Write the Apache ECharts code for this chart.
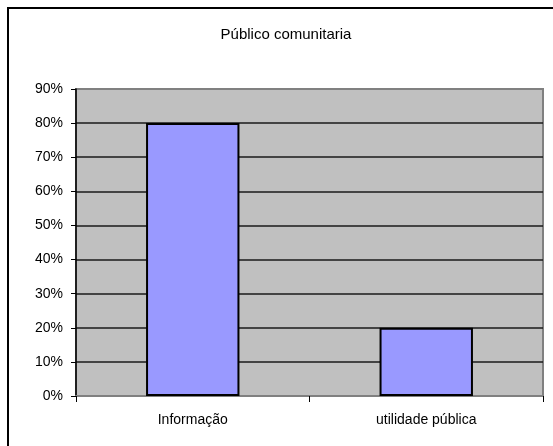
<!DOCTYPE html>
<html>
<head>
<meta charset="utf-8">
<script src="https://cdn.jsdelivr.net/npm/echarts@6/dist/echarts.min.js"></script>
<style>
  html, body { margin: 0; padding: 0; background: #fff; }
  #chart { width: 553px; height: 446px; }
</style>
</head>
<body>
<div id="chart"></div>
<script>
const titleText = 'Público comunitaria';
const categories = ['Informação', 'utilidade pública'];
const shares = [0.80, 0.20];
const yTicks = [0, 0.1, 0.2, 0.3, 0.4, 0.5, 0.6, 0.7, 0.8, 0.9];

const FONT = '"Liberation Sans", Arial, sans-serif';
const chart = echarts.init(document.getElementById('chart'), null, { renderer: 'canvas' });

// horizontal rules: the 0% and 90% ones form part of the grey frame
const ruleColors = yTicks.map((v, i) => (i === 0 || i === yTicks.length - 1) ? '#808080' : '#1a1a1a');

chart.setOption({
  animation: false,
  backgroundColor: '#ffffff',
  title: {
    text: titleText,
    left: 281,
    top: 22,
    textAlign: 'center',
    textStyle: { fontFamily: FONT, fontSize: 15, fontWeight: 'normal', color: '#000' }
  },
  graphic: [{
    type: 'rect',
    shape: { x: 8, y: 8, width: 600, height: 500 },
    style: { fill: 'none', stroke: '#000', lineWidth: 2 },
    silent: true
  }],
  grid: {
    left: 76, right: 10, top: 89, bottom: 50,
    show: true,
    backgroundColor: '#c0c0c0',
    borderColor: '#808080',
    borderWidth: 2
  },
  xAxis: {
    type: 'category',
    data: categories,
    axisLine: { show: true, lineStyle: { color: '#808080', width: 2 } },
    axisTick: { show: true, alignWithLabel: false, length: 6, lineStyle: { color: '#000' } },
    axisLabel: { fontFamily: FONT, fontSize: 14, color: '#000', margin: 17 },
    splitLine: { show: false }
  },
  yAxis: {
    type: 'value',
    min: 0, max: 0.9, interval: 0.1,
    axisLine: { show: true, lineStyle: { color: '#000', width: 1.5 } },
    axisTick: { show: true, length: 5, lineStyle: { color: '#000' } },
    axisLabel: {
      fontFamily: FONT, fontSize: 14, color: '#000', margin: 13,
      formatter: v => Math.round(v * 100) + '%'
    },
    splitLine: { show: true, lineStyle: { color: ruleColors, width: 1.5 } }
  },
  series: [{
    type: 'bar',
    data: shares,
    barCategoryGap: '60%',
    itemStyle: { color: '#9999ff', borderColor: '#000', borderWidth: 2 }
  }]
});
</script>
</body>
</html>
